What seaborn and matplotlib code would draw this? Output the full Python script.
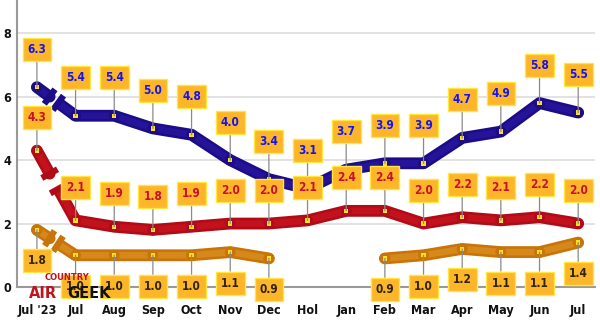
import numpy as np
import matplotlib
matplotlib.use("Agg")
import matplotlib.pyplot as plt
import seaborn as sns
import pandas as pd

# ---------------- data ----------------
months = ["Jul '23", "Jul", "Aug", "Sep", "Oct", "Nov", "Dec", "Hol",
          "Jan", "Feb", "Mar", "Apr", "May", "Jun", "Jul"]
blue_vals = [6.3, 5.4, 5.4, 5.0, 4.8, 4.0, 3.4, 3.1, 3.7, 3.9, 3.9, 4.7, 4.9, 5.8, 5.5]
red_vals = [4.3, 2.1, 1.9, 1.8, 1.9, 2.0, 2.0, 2.1, 2.4, 2.4, 2.0, 2.2, 2.1, 2.2, 2.0]
orange_vals = [1.8, 1.0, 1.0, 1.0, 1.0, 1.1, 0.9, np.nan, np.nan, 0.9, 1.0, 1.2, 1.1, 1.1, 1.4]
yticks = [0, 2, 4, 6, 8]

# ---------------- style ----------------
sns.set_theme(style="white")
plt.rcParams['font.family'] = ['DejaVu Sans']

fig = plt.figure(figsize=(6.0, 3.21), dpi=100)
ax = fig.add_axes([0.028, 0.106, 0.964, 0.894])
x = np.arange(len(months))
ax.set_xlim(-0.52, 14.44)
ax.set_ylim(0, 9.05)

for yv in yticks[1:]:
    ax.axhline(yv, color="#dddddd", lw=1.2, zorder=0)

series = [
    (blue_vals, "#1c0c86", "#3322b8", "#1414f0", 38),
    (red_vals, "#b00c18", "#e41a28", "#c8102e", 33),
    (orange_vals, "#c87408", "#f0a838", "#2e2410", -31),
]

LW = 8.5

def draw_break(ax, v0, v1, x0, x1, dark, light):
    # broken first segment, computed in display space from the data
    p0 = ax.transData.transform((x0, v0))
    p1 = ax.transData.transform((x1, v1))
    d = p1 - p0
    L = np.hypot(*d)
    u = d / L
    n = np.array([-u[1], u[0]])
    inv = ax.transData.inverted()
    for a, b, cap in [(0.0, 0.33, 0.33), (0.55, 1.0, 0.55)]:
        qa = p0 + d * a
        qb = p0 + d * b
        pa, pb = inv.transform(qa), inv.transform(qb)
        ax.plot([pa[0], pb[0]], [pa[1], pb[1]], color=dark, lw=LW,
                solid_capstyle="round" if a == 0 else "butt", zorder=3)
        ax.plot([pa[0], pb[0]], [pa[1], pb[1]], color=light, lw=LW * 0.55,
                solid_capstyle="butt", zorder=3, alpha=0.4)
        c = p0 + d * cap
        c1, c2 = inv.transform(c - n * 9), inv.transform(c + n * 9)
        ax.plot([c1[0], c2[0]], [c1[1], c2[1]], color=dark, lw=4.5,
                solid_capstyle="butt", zorder=4)

for vals, dark, light, tcol, off in series:
    df = pd.DataFrame({"x": x, "v": vals})
    seg = (df["v"].isna()).cumsum()
    sub = df.iloc[1:]
    ok = sub["v"].notna()
    for _, g in sub[ok].groupby(seg.iloc[1:][ok]):
        sns.lineplot(data=g, x="x", y="v", ax=ax, color=dark, lw=LW,
                     solid_capstyle="round", solid_joinstyle="round", zorder=3,
                     legend=False)
        sns.lineplot(data=g, x="x", y="v", ax=ax, color=light, lw=LW * 0.55,
                     solid_capstyle="round", solid_joinstyle="round", zorder=3,
                     alpha=0.4, legend=False)
    draw_break(ax, vals[0], vals[1], x[0], x[1], dark, light)
    m = df["v"].notna()
    sns.scatterplot(x=df["x"][m], y=df["v"][m], ax=ax, s=62, color=dark,
                    edgecolor="none", zorder=5, legend=False)
    sns.scatterplot(x=df["x"][m], y=df["v"][m], ax=ax, s=10, marker="s",
                    color="#ffe21a", edgecolor="none", zorder=6, legend=False)
    for xi, v in zip(x, vals):
        if np.isnan(v):
            continue
        ax.annotate(f"{v:.1f}", xy=(xi, v), xytext=(0, off),
                    textcoords="offset pixels", ha="center", va="center",
                    fontsize=8.5, fontweight="bold", fontstretch="condensed",
                    color=tcol, zorder=8,
                    bbox=dict(boxstyle="square,pad=0.42", fc="#fdb52a",
                              ec="#ffe640", lw=1.0),
                    arrowprops=dict(arrowstyle="-", color="#8a8a8a", lw=0.9,
                                    shrinkA=0, shrinkB=0),
                    annotation_clip=False)

# logo (watermark)
fig.text(0.075, 0.135, "COUNTRY", color="#c0141c", fontsize=6,
         fontweight="bold", ha="left", va="center", zorder=1)
fig.text(0.048, 0.085, "AIR", color="#c0141c", fontsize=10.5,
         fontweight="heavy", ha="left", va="center", zorder=1)
fig.text(0.112, 0.085, "GEEK", color="#111111", fontsize=10.5,
         fontweight="heavy", ha="left", va="center", zorder=1)

# axes styling
ax.set_xticks(x)
ax.set_xticklabels(months)
ax.set_yticks(yticks)
ax.set_xlabel("")
ax.set_ylabel("")
for s in ["top", "right"]:
    ax.spines[s].set_visible(False)
for s in ["left", "bottom"]:
    ax.spines[s].set_color("#999999")
    ax.spines[s].set_linewidth(1.5)
ax.tick_params(axis="x", direction="in", length=5, color="#999999",
               pad=12, labelsize=9)
ax.tick_params(axis="y", length=0, pad=4, labelsize=9)
for lab in ax.get_xticklabels() + ax.get_yticklabels():
    lab.set_fontweight("bold")
    lab.set_fontstretch("condensed")
    lab.set_color("#111111")

fig.savefig("out.png", dpi=100)
